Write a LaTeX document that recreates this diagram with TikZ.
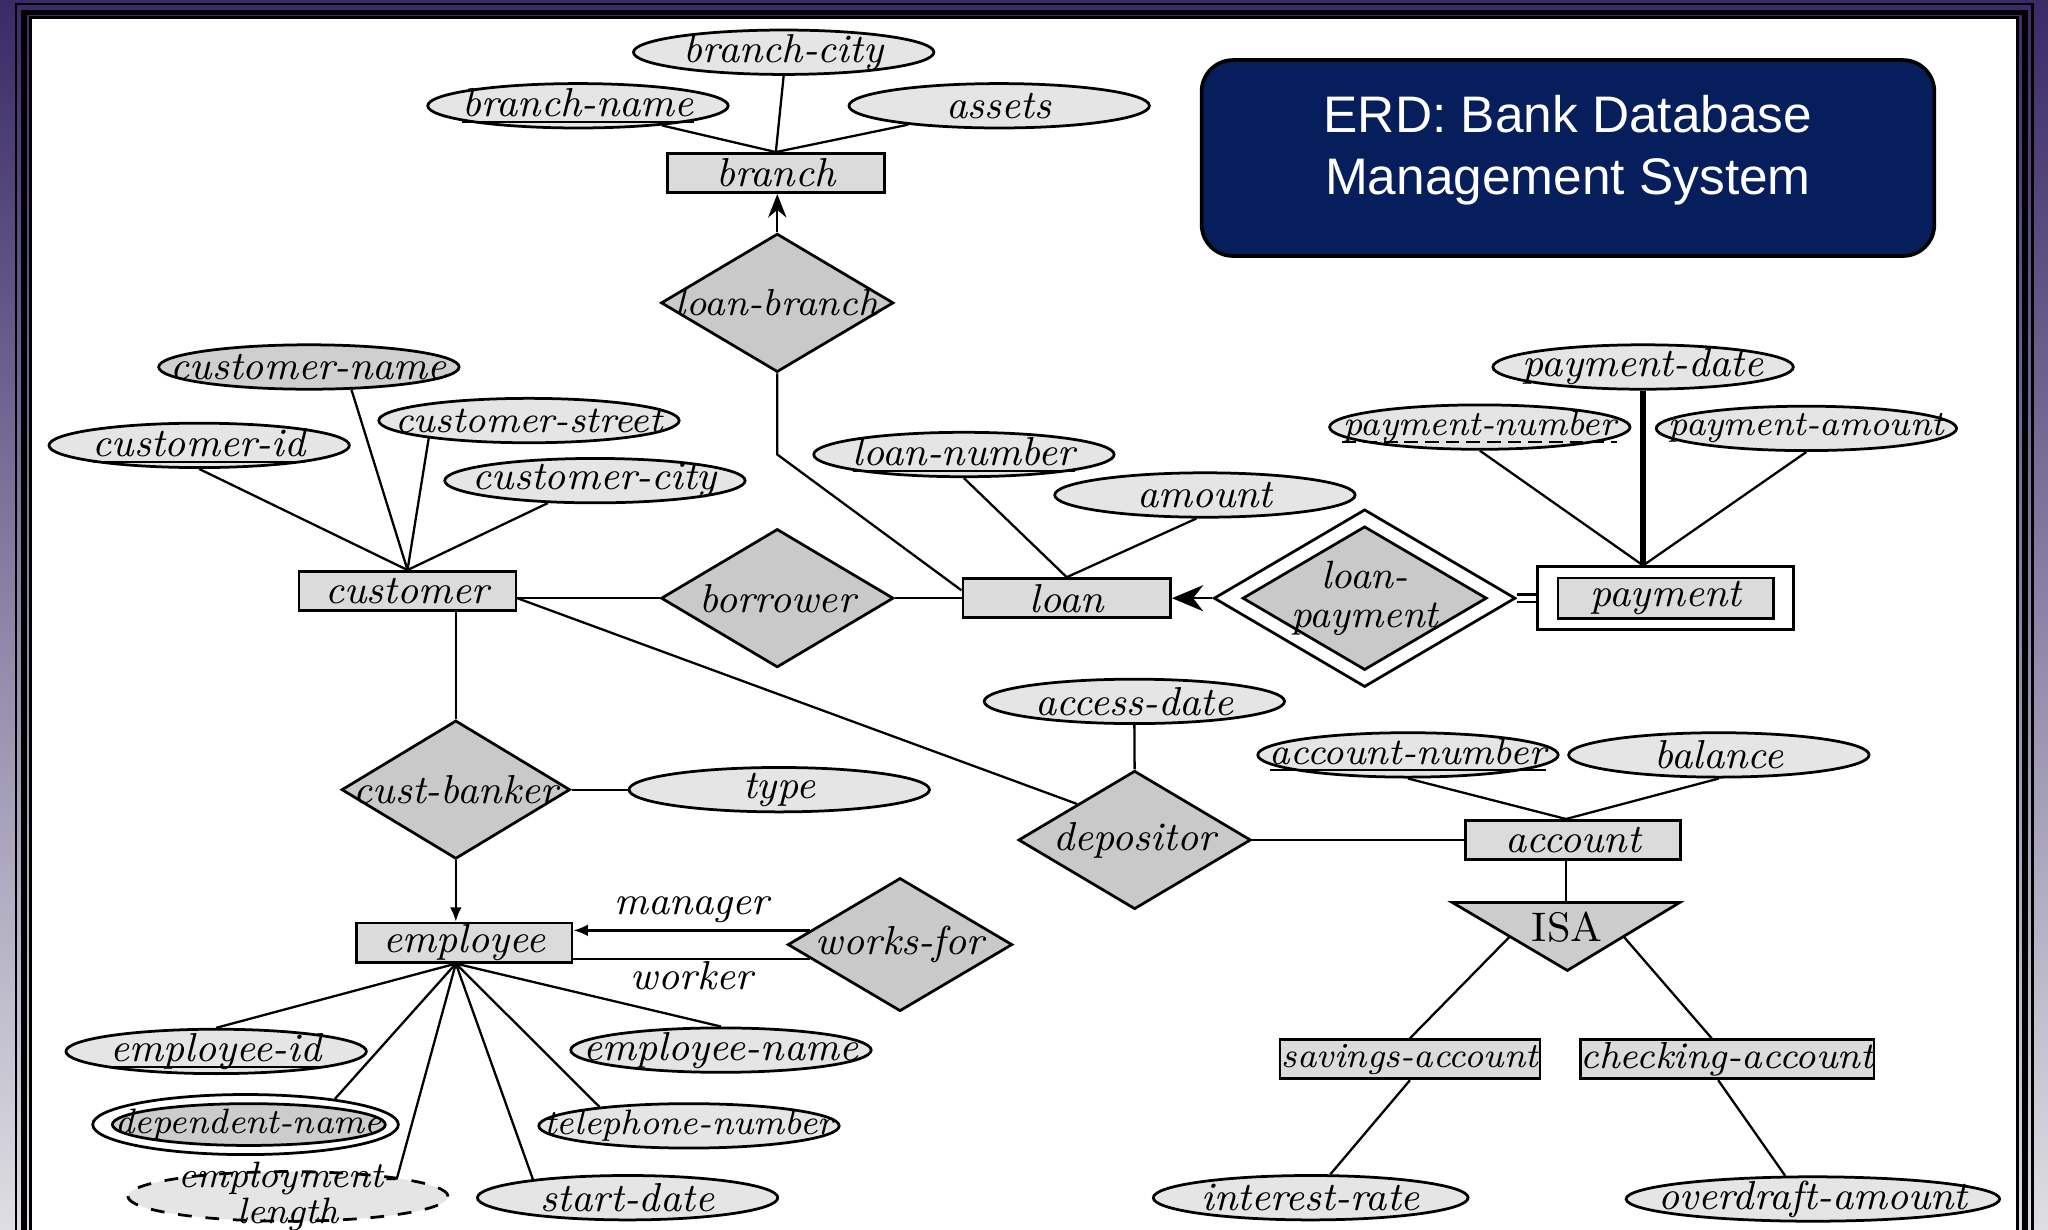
\documentclass[tikz,border=0pt]{standalone}
\usepackage{fontspec}
\usepackage{tikz}
\usetikzlibrary{shapes.geometric, arrows.meta, positioning, calc}
\newfontfamily\titlefont{Liberation Sans}
\definecolor{navy}{RGB}{6,30,92}
\definecolor{bgtop}{RGB}{58,42,104}
\definecolor{bgbot}{RGB}{222,222,228}
% key attribute: rule just under the baseline
\newcommand\keyline[1]{\setbox0\hbox{#1}\rlap{\rule[-1.4pt]{\wd0}{0.45pt}}\box0}

\begin{document}
\begin{tikzpicture}[
  x=0.1mm, y=-0.1mm,
  font=\fontsize{8.8}{9.5}\selectfont\itshape,
  entity/.style={rectangle, draw, line width=0.6pt, fill=gray!28, inner sep=0pt, minimum height=3mm, minimum width=16.6mm},
  attr/.style={ellipse, draw, line width=0.6pt, fill=gray!20, inner sep=0pt, minimum height=3.4mm, minimum width=23mm},
  rel/.style={diamond, draw, line width=0.6pt, fill=gray!42, inner sep=0pt, minimum width=17.8mm, minimum height=10.6mm},
  small/.style={font=\fontsize{7.7}{8.5}\selectfont\itshape},
  slim/.style={font=\fontsize{8.2}{9}\selectfont\itshape},
  twoline/.style={align=center, font=\fontsize{8.6}{8.4}\selectfont\itshape},
  titlebox/.style={rectangle, draw=black, line width=0.8pt, fill=navy, rounded corners=2.4mm, minimum width=56.1mm, minimum height=15mm},
  titletext/.style={align=center, text=white, yshift=0.6mm, font=\titlefont\upshape\fontsize{11.2}{13.6}\selectfont},
  conn/.style={line width=0.5pt},
  tip/.style={conn, -{Latex[length=1.1mm, width=0.9mm]}},
  bigtip/.style={conn, -{Stealth[length=1.8mm, width=1.4mm]}},
]
  \useasboundingbox (0,0) rectangle (1568,941);

  % Slide frame
  \shade[top color=bgtop, bottom color=bgbot] (0,0) rectangle (1568,941);
  \draw[line width=0.2mm] (12.3,3) rectangle (1556,960);
  \draw[line width=0.45mm] (18.4,9.6) rectangle (1550.4,960);
  \draw[fill=white, line width=0.25mm] (23.5,13.5) rectangle (1544.5,960);

  % Branch
  \node[entity] (branch) at (594,132.5) {branch};
  \node[attr, label={center:branch-city}] (bcity) at (600,40) {};
  \node[attr, label={center:\keyline{branch-name}}] (bname) at (442.5,81) {};
  \node[attr, label={center:assets}] (assets) at (765,81) {};

  % Customer
  \node[entity] (cust) at (312,452.5) {customer};
  \node[attr, fill=gray!38, label={center:customer-name}] (cname) at (236.5,281) {};
  \node[attr, label={[slim]center:customer-street}] (cstreet) at (405,322) {};
  \node[attr, label={center:\keyline{customer-id}}] (cid) at (152.5,341) {};
  \node[attr, label={center:customer-city}] (ccity) at (455.5,368) {};

  % Borrower and loan
  \node[rel, right=10.9mm of cust, yshift=-0.55mm, label={center:borrower}] (borrow) {};
  \node[rel, above=11.8mm of borrow, label={[slim]center:loan-branch}] (lbranch) {};
  \node[entity, right=5.1mm of borrow, minimum width=15.9mm] (loan) {loan};
  \node[attr, label={center:\keyline{loan-number}}] (lnum) at (738,348) {};
  \node[attr, label={center:amount}] (amount) at (922.5,379) {};

  % Weak entity payment
  \node[rel, right=3.1mm of loan, minimum width=23.1mm, minimum height=13.6mm, fill=white] (lpay) {};
  \node[rel, minimum width=18.7mm, minimum height=11mm, label={[twoline]center:loan-\\payment}] (lpayin) at (lpay) {};
  \node[entity, right=1.5mm of lpay, minimum width=19.6mm, minimum height=4.8mm, fill=white] (payment) {};
  \node[entity, minimum width=16.5mm, minimum height=3.1mm] (paymentin) at (payment) {payment};
  \node[attr, label={center:payment-date}] (pdate) at (1258,281) {};
  \node[attr, label={[small, inner sep=0pt, name=pnumtxt]center:payment-number}] (pnum) at (1133,327) {};
  \node[attr, label={[small]center:payment-amount}] (pamount) at (1383,328) {};
  \draw[line width=0.45pt, dash pattern=on 3pt off 1.5pt] ([yshift=-1.4pt]pnumtxt.base west) -- ([yshift=-1.4pt]pnumtxt.base east);

  % Title
  \node[titlebox, label={[titletext]center:{ERD: Bank Database\\Management System}}] (title) at (1200.5,121) {};

  % Depositor and account
  \node[rel, below=11.5mm of loan, xshift=5.2mm, label={center:depositor}] (depos) {};
  \node[attr, label={center:access-date}] (adate) at (868.5,537) {};
  \node[entity, right=16.2mm of depos, minimum width=16.5mm] (account) {account};
  \node[attr, label={[slim]center:\keyline{account-number}}] (anum) at (1078,578) {};
  \node[attr, label={center:balance}] (balance) at (1316,578) {};

  % ISA
  \coordinate (isaL) at (1112,691);
  \coordinate (isaR) at (1286,691);
  \coordinate (isaB) at (1200,743);
  \coordinate (isaT) at (1199,691);
  \draw[fill=gray!40, line width=0.6pt] (isaL) -- (isaR) -- (isaB) -- cycle;
  \node[font=\fontsize{9}{10}\selectfont\upshape] (isa) at (1200,710) {ISA};
  \node[entity, small, minimum width=19.9mm] (savings) at (1079.5,811) {savings-account};
  \node[entity, slim, minimum width=21.9mm] (checking) at (1322.5,811) {checking-account};
  \node[attr, minimum width=24.1mm, label={center:interest-rate}] (irate) at (1003.5,917) {};
  \node[attr, minimum width=28.6mm, label={center:overdraft-amount}] (overdraft) at (1388,918) {};

  % Employee
  \node[rel, below=8.2mm of cust, xshift=3.7mm, minimum width=17.5mm, label={center:cust-banker}] (cbanker) {};
  \node[attr, right=4.3mm of cbanker, label={center:type}] (type) {};
  \node[entity, below=4.7mm of cbanker, xshift=0.65mm, minimum width=16.5mm] (emp) {employee};
  \node[rel, right=16.3mm of emp, yshift=-0.15mm, minimum width=17.2mm, minimum height=10.2mm, label={center:works-for}] (wfor) {};
  \node[attr, label={center:\keyline{employee-id}}] (eid) at (165.5,805) {};
  \node[attr, label={center:employee-name}] (ename) at (552,804) {};
  \node[attr, minimum width=23.4mm, minimum height=4.6mm, fill=white] (dname) at (188,861) {};
  \node[attr, minimum width=20.9mm, minimum height=3.2mm, fill=gray!40, label={[small]center:dependent-name}] (dnamein) at (190.5,861) {};
  \node[attr, label={[small]center:telephone-number}] (phone) at (527.5,862) {};
  \node[attr, dashed, minimum width=24.5mm, minimum height=3.8mm, label={[align=center, font=\fontsize{8}{7.9}\selectfont\itshape]center:employment-\\length}] (elength) at (220.5,916) {};
  \node[attr, label={center:start-date}] (sdate) at (480.5,917) {};

  % Connectors
  \foreach \a in {bname, bcity.south, assets}
    \draw[conn] (\a) -- (branch.north);
  \draw[bigtip] (lbranch.north) -- (lbranch.north |- branch.south);
  \coordinate (lbbend) at (lbranch.south |- lnum);
  \draw[conn] (lbranch.south) -- (lbbend) -- ([yshift=0.6mm]loan.west);

  \foreach \a in {cid.south, cname.-28, cstreet.190, ccity}
    \draw[conn] (\a) -- (cust.north);
  \draw[conn] ([yshift=-0.55mm]cust.east) -- (borrow.west);
  \draw[conn] (borrow.east) -- (loan.west);
  \draw[conn] ([yshift=-0.55mm]cust.east) -- (depos.148);
  \draw[conn] (cbanker.north |- cust.south) -- (cbanker.north);
  \draw[conn] (cbanker.east) -- (type.west);
  \draw[tip] (cbanker.south) -- (cbanker.south |- emp.north);

  \draw[conn] (lnum.south) -- (loan.north);
  \draw[conn] (amount.-110) -- (loan.north);
  \draw[conn, -{Stealth[length=2.4mm, width=2mm]}] (lpay.west) -- (loan.east);
  \draw[conn, double distance=0.4mm] (lpay.east) -- (payment.west);

  \coordinate (ptop) at (pdate.south |- payment.north);
  \draw[line width=1.2pt] (pdate.south) -- (ptop);
  \foreach \a in {pnum.south, pamount.south}
    \draw[conn] (\a) -- (ptop);

  \draw[conn] (adate.south) -- (depos.north);
  \draw[conn] (depos.east) -- (depos.east -| account.west);
  \foreach \a in {anum.south, balance.south}
    \draw[conn] (\a) -- (isaT |- account.north);
  \draw[conn] (isaT |- account.south) -- (isaT);
  \draw[conn] ($(isaL)!0.5!(isaB)$) -- (savings.north);
  \draw[conn] ($(isaR)!0.5!(isaB)$) -- ([xshift=-1.2mm]checking.north);
  \draw[conn] (savings.south) -- (irate.50);
  \draw[conn] ([xshift=-0.7mm]checking.south) -- (overdraft.140);

  \coordinate (empfoot) at (cbanker.south |- emp.south);
  \foreach \a in {eid.north, dname.16, elength.10, sdate.169, phone.168, ename.north}
    \draw[conn] (empfoot) -- (\a);
  \draw[tip] (wfor.171) -- node[above, inner sep=1.5pt] (mgr) {manager} (emp.east |- wfor.171);
  \draw[conn] (emp.east |- wfor.189) -- node[below, inner sep=0.4pt] (wkr) {worker} (wfor.189);

\end{tikzpicture}
\end{document}
